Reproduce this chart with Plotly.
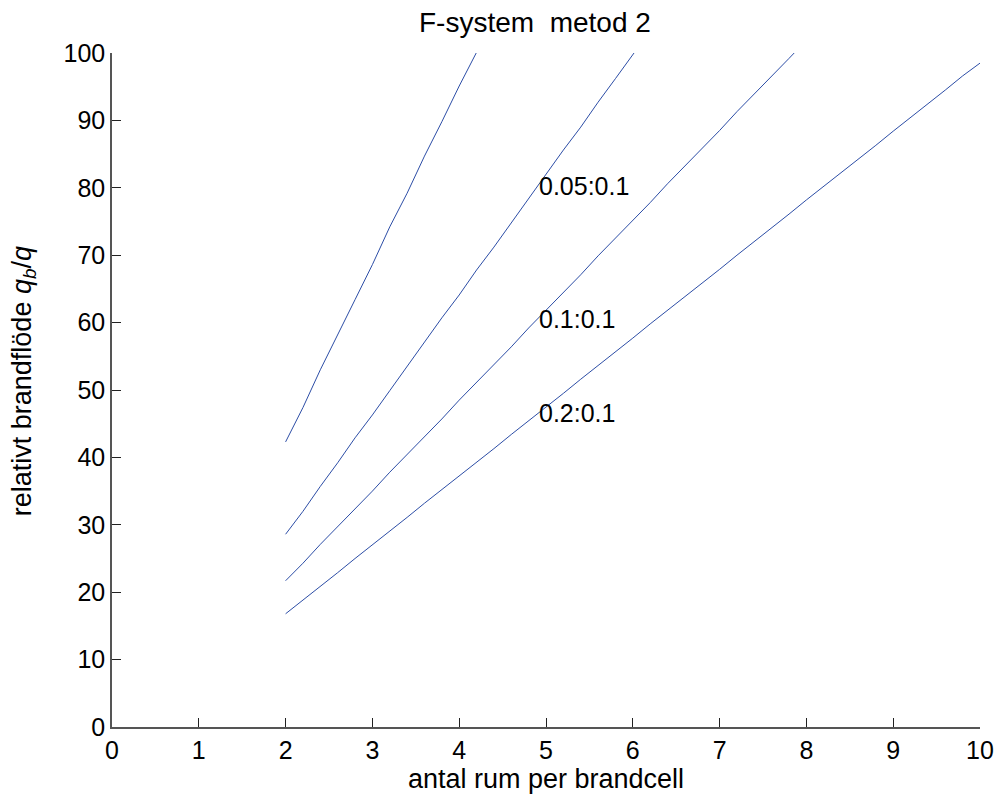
import plotly.graph_objects as go

# x positions (antal rum per brandcell)
x1 = [2.0, 2.2, 2.4, 2.6, 2.8, 3.0, 3.2, 3.4, 3.6, 3.8, 4.0, 4.2, 4.4]
y1 = [42.3, 47.4, 53.0, 58.1, 63.4, 68.6, 74.2, 79.2, 84.7, 89.8, 95.1, 100.1, 105.4]

x2 = [2.0, 2.2, 2.4, 2.6, 2.8, 3.0, 3.2, 3.4, 3.6, 3.8, 4.0, 4.2, 4.4, 4.6, 4.8,
      5.0, 5.2, 5.4, 5.6, 5.8, 6.0, 6.2]
y2 = [28.6, 32.0, 35.7, 39.2, 42.9, 46.3, 49.9, 53.5, 57.0, 60.7, 64.1, 67.8, 71.2,
      74.8, 78.4, 81.9, 85.6, 89.0, 92.7, 96.2, 99.8, 103.3]

x3 = [2.0, 2.2, 2.4, 2.6, 2.8, 3.0, 3.2, 3.4, 3.6, 3.8, 4.0, 4.2, 4.4, 4.6, 4.8,
      5.0, 5.2, 5.4, 5.6, 5.8, 6.0, 6.2, 6.4, 6.6, 6.8, 7.0, 7.2, 7.4, 7.6, 7.8, 8.0]
y3 = [21.7, 24.3, 27.1, 29.7, 32.4, 35.0, 37.8, 40.4, 43.1, 45.7, 48.5, 51.1, 53.8,
      56.4, 59.2, 61.8, 64.5, 67.1, 69.9, 72.5, 75.2, 77.8, 80.6, 83.2, 85.9, 88.5,
      91.3, 93.9, 96.6, 99.2, 101.9]

x4 = [2.0, 2.2, 2.4, 2.6, 2.8, 3.0, 3.2, 3.4, 3.6, 3.8, 4.0, 4.2, 4.4, 4.6, 4.8,
      5.0, 5.2, 5.4, 5.6, 5.8, 6.0, 6.2, 6.4, 6.6, 6.8, 7.0, 7.2, 7.4, 7.6, 7.8,
      8.0, 8.2, 8.4, 8.6, 8.8, 9.0, 9.2, 9.4, 9.6, 9.8, 10.0]
y4 = [16.8, 18.8, 20.9, 22.9, 25.0, 27.0, 29.1, 31.1, 33.2, 35.2, 37.3, 39.3, 41.3,
      43.4, 45.4, 47.5, 49.5, 51.6, 53.6, 55.7, 57.7, 59.8, 61.8, 63.8, 65.9, 67.9,
      70.0, 72.0, 74.1, 76.1, 78.2, 80.2, 82.3, 84.3, 86.3, 88.4, 90.4, 92.5, 94.5,
      96.6, 98.5]

label_text = ["0.05:0.1", "0.1:0.1", "0.2:0.1"]
label_x = [4.9, 4.9, 4.9]
label_y = [80.3, 60.5, 46.6]

x_ticks = list(range(0, 11))
y_ticks = list(range(0, 101, 10))

line_color = "#2c4da6"
font_family = "Liberation Sans, Arial, sans-serif"
FS = 25

fig = go.Figure()
for xs, ys in [(x1, y1), (x2, y2), (x3, y3), (x4, y4)]:
    fig.add_trace(go.Scatter(x=xs, y=ys, mode="lines",
                             line=dict(color=line_color, width=1),
                             showlegend=False, hoverinfo="skip"))

for t, lx, ly in zip(label_text, label_x, label_y):
    fig.add_annotation(x=lx, y=ly, text=t, showarrow=False, xanchor="left",
                       yanchor="middle", font=dict(size=FS, color="black",
                                                   family=font_family))

# y-axis title as rotated annotation
fig.add_annotation(xref="paper", yref="paper", x=-0.1014, y=0.513,
                   text="relativt brandflöde <i>q</i><sub><i>b</i></sub>/<i>q</i>",
                   textangle=-90, showarrow=False, xanchor="center", yanchor="middle",
                   font=dict(size=27, color="black", family=font_family))

axis_common = dict(showgrid=False, zeroline=False, showline=True,
                   linecolor="#555555", linewidth=1.5, ticks="inside",
                   ticklen=9, tickcolor="#222222", tickwidth=1, mirror=False,
                   tickfont=dict(size=FS, color="black", family=font_family))

fig.update_xaxes(range=[0, 10], tickvals=x_ticks, ticktext=[str(v) for v in x_ticks],
                 title=dict(text="antal rum per brandcell",
                            font=dict(size=27, color="black", family=font_family),
                            standoff=0),
                 **axis_common)
fig.update_yaxes(range=[0, 100], tickvals=y_ticks, ticktext=[str(v) for v in y_ticks],
                 **axis_common)

fig.update_layout(
    width=998, height=796,
    margin=dict(l=112, r=18, t=53, b=69, autoexpand=False),
    plot_bgcolor="white", paper_bgcolor="white",
    title=dict(text="F-system&nbsp; metod 2", x=0.536, xanchor="center", y=0.9724,
               yanchor="middle", font=dict(size=28, color="black", family=font_family)),
    showlegend=False,
)

fig.write_html("out.html",
               config={"displayModeBar": False},
               post_script="document.body.style.margin='0';"
                           "document.body.style.overflow='hidden';")
